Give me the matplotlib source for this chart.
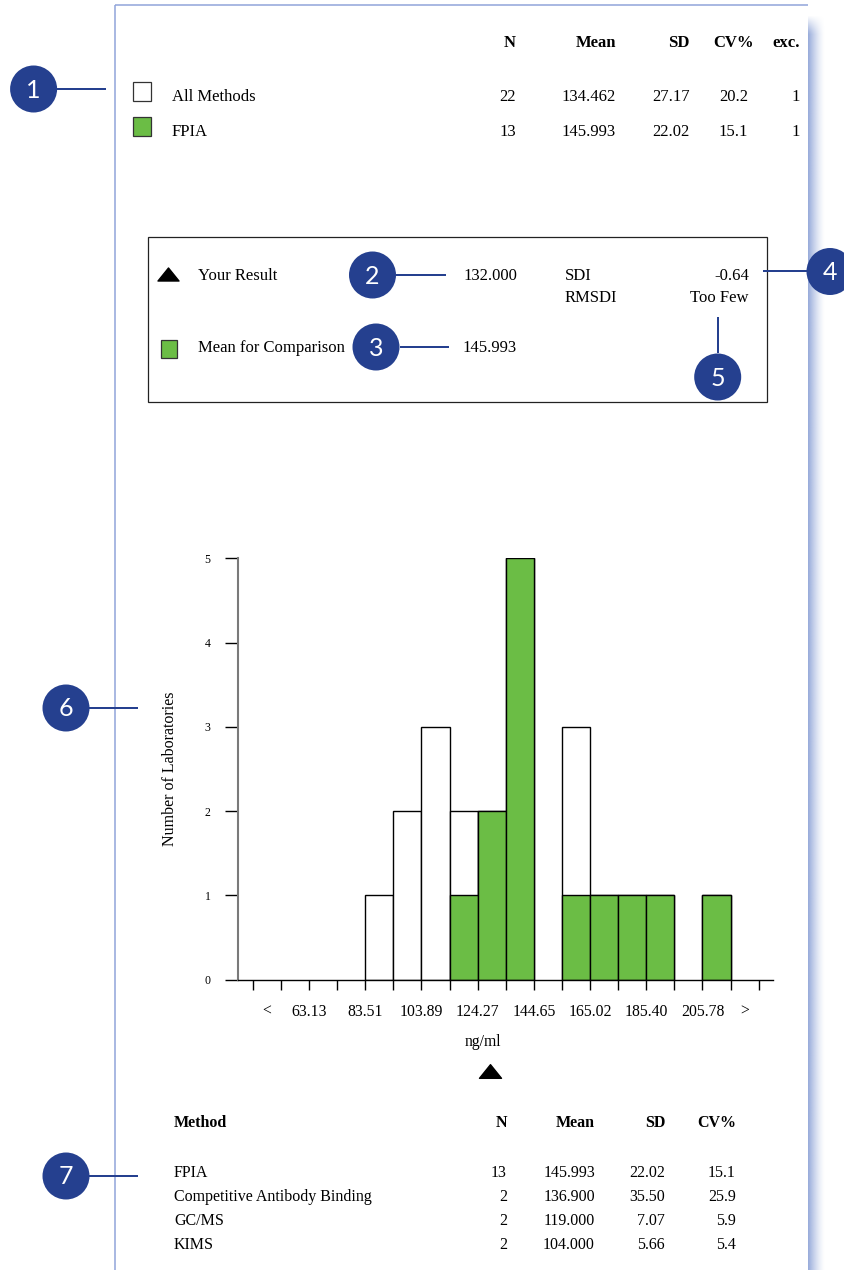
import numpy as np
import matplotlib
matplotlib.use("Agg")
import matplotlib.pyplot as plt
from matplotlib.patches import Circle, Rectangle
from matplotlib.path import Path
import matplotlib.transforms as mtransforms

# ---------------- data ----------------
summary_groups = ["All Methods", "FPIA"]
summary_n = ["22", "13"]
summary_mean = ["134.462", "145.993"]
summary_sd = ["27.17", "22.02"]
summary_cv = ["20.2", "15.1"]
summary_exc = ["1", "1"]

your_result = "132.000"
comparison_mean = "145.993"
sdi_value = "-0.64"
rmsdi_value = "Too Few"

first_edge = 42.75
bin_width = 10.1894
n_bins = 18
counts_all = [0, 0, 0, 0, 1, 2, 3, 2, 2, 5, 0, 3, 1, 1, 1, 0, 1, 0]
counts_fpia = [0, 0, 0, 0, 0, 0, 0, 1, 2, 5, 0, 1, 1, 1, 1, 0, 1, 0]
x_tick_labels = ["<", "63.13", "83.51", "103.89", "124.27", "144.65",
                 "165.02", "185.40", "205.78", ">"]
your_result_marker_x = 128.7

methods = ["FPIA", "Competitive Antibody Binding", "GC/MS", "KIMS"]
method_n = ["13", "2", "2", "2"]
method_mean = ["145.993", "136.900", "119.000", "104.000"]
method_sd = ["22.02", "35.50", "7.07", "5.66"]
method_cv = ["15.1", "25.9", "5.9", "5.4"]

# ---------------- style ----------------
W, H = 845, 1270
GREEN = "#6bbd45"
NAVY = "#25408f"
PAGE = "#8ea3d9"
SERIF = ["Liberation Serif", "DejaVu Serif"]
plt.rcParams["font.family"] = SERIF

fig = plt.figure(figsize=(W / 100, H / 100), dpi=100)
bg = fig.add_axes([0, 0, 1, 1])
bg.set_xlim(0, W)
bg.set_ylim(H, 0)
bg.axis("off")

PX = 0.72  # points per pixel


def T(x, y, s, ha="left", size=12, weight="normal"):
    bg.text(x, y + 1, s, ha=ha, va="center", fontsize=size, fontweight=weight,
            color="black")


# page border + shadow
bg.plot([114.7, 114.7], [5.3, H], color=PAGE, lw=1.5 * PX, solid_capstyle="butt")
bg.plot([114.7, 808.5], [5.3, 5.3], color=PAGE, lw=1.5 * PX, solid_capstyle="butt")
sh_w, sh_h = 60, 400
gx = np.linspace(0, 1, sh_w)
gy = np.linspace(0, 1, sh_h)
alpha_x = (1 - gx) ** 1.4
img = np.zeros((sh_h, sh_w, 4))
img[..., 0] = 150 / 255
img[..., 1] = 170 / 255
img[..., 2] = 218 / 255
top_fade = np.clip((gy * (H - 14)) / 18.0, 0, 1)
img[..., 3] = alpha_x[None, :] * top_fade[:, None]
bg.imshow(img, extent=[808.5, 825, H, 14], aspect="auto", interpolation="bilinear",
          zorder=0)
bg.set_xlim(0, W)
bg.set_ylim(H, 0)

# ---------------- top summary table ----------------
T(516, 42, "N", ha="right", weight="bold")
T(616, 42, "Mean", ha="right", weight="bold")
T(690, 42, "SD", ha="right", weight="bold")
T(754, 42, "CV%", ha="right", weight="bold")
T(800, 42, "exc.", ha="right", weight="bold")
row_y = [96, 131]
for i, g in enumerate(summary_groups):
    y = row_y[i]
    fc = "white" if i == 0 else GREEN
    bg.add_patch(Rectangle((133, y - 14), 18, 19, facecolor=fc, edgecolor="#333333",
                           lw=0.9))
    T(172, y, g)
    T(516, y, summary_n[i], ha="right")
    T(616, y, summary_mean[i], ha="right")
    T(690, y, summary_sd[i], ha="right")
    T(748, y, summary_cv[i], ha="right")
    T(800, y, summary_exc[i], ha="right")

# ---------------- legend box ----------------
bg.add_patch(Rectangle((148, 237), 619, 165, facecolor="none", edgecolor="#222222",
                       lw=0.9))
tri = Path([(-1, -0.62), (1, -0.62), (0, 0.62), (-1, -0.62)],
           [Path.MOVETO, Path.LINETO, Path.LINETO, Path.CLOSEPOLY])
bg.plot([168.5], [274], marker=tri, markersize=21 * PX, color="black", lw=0)
T(198, 275, "Your Result")
T(517, 275, your_result, ha="right")
T(565, 275, "SDI")
T(565, 297, "RMSDI")
T(749, 275, sdi_value, ha="right")
T(749, 297, rmsdi_value, ha="right")
bg.add_patch(Rectangle((161, 340), 16, 18, facecolor=GREEN, edgecolor="#333333",
                       lw=0.9))
T(198, 347, "Mean for Comparison")
T(517, 347, comparison_mean, ha="right")

# ---------------- bottom method table ----------------
T(174, 1122, "Method", size=11.5, weight="bold")
T(507, 1122, "N", ha="right", size=11.5, weight="bold")
T(595, 1122, "Mean", ha="right", size=11.5, weight="bold")
T(666, 1122, "SD", ha="right", size=11.5, weight="bold")
T(736, 1122, "CV%", ha="right", size=11.5, weight="bold")
mrow_y = [1172, 1196, 1220, 1244]
for i, m in enumerate(methods):
    y = mrow_y[i]
    T(174, y, m, size=11.5)
    T(507, y, method_n[i], ha="right", size=11.5)
    T(595, y, method_mean[i], ha="right", size=11.5)
    T(665, y, method_sd[i], ha="right", size=11.5)
    T(736, y, method_cv[i], ha="right", size=11.5)

# ---------------- histogram ----------------
ax_l, ax_r, ax_t, ax_b = 238, 773, 558.3, 979.5
ax = fig.add_axes([ax_l / W, (H - ax_b) / H, (ax_r - ax_l) / W, (ax_b - ax_t) / H])
ax.patch.set_alpha(0)
edges = first_edge + bin_width * np.arange(n_bins + 1)
left = edges[:-1]
ca = np.array(counts_all)
cf = np.array(counts_fpia)
ax.bar(left[ca > 0], ca[ca > 0], width=bin_width, align="edge", facecolor="white",
       edgecolor="black", lw=1.0, zorder=2)
ax.bar(left[cf > 0], cf[cf > 0], width=bin_width, align="edge", facecolor=GREEN,
       edgecolor="black", lw=1.0, zorder=3)

px_per_unit = (477.7 - 365.3) / (124.27 - 83.51)
x0 = 83.51 - (365.3 - ax_l) / px_per_unit
x1 = 83.51 + (ax_r - 365.3) / px_per_unit
ax.set_xlim(x0, x1)
ax.set_ylim(0, 5)
for s in ["top", "right"]:
    ax.spines[s].set_visible(False)
ax.spines["left"].set_color("#7a7a7a")
ax.spines["left"].set_linewidth(1.5)
ax.spines["bottom"].set_color("black")
ax.spines["bottom"].set_linewidth(1.0)
ax.spines["bottom"].set_zorder(4)
ax.set_yticks([0, 1, 2, 3, 4, 5])
ax.tick_params(axis="y", direction="out", length=13 * PX, width=1.0, color="black",
               labelsize=8.5, pad=10.5)
ax.set_xticks(edges)
ax.set_xticklabels([])
ax.tick_params(axis="x", direction="out", length=10 * PX, width=1.0, color="black")

label_pos = [left[0] + bin_width / 2] + list(edges[2:17:2]) + [left[-1] + bin_width / 2]
for xp, lbl in zip(label_pos, x_tick_labels):
    ax.annotate(lbl, xy=(xp, 0), xycoords="data", xytext=(0, -32.5 * PX),
                textcoords="offset points", ha="center", va="center", fontsize=11.3,
                annotation_clip=False)
ax.annotate("ng/ml", xy=(126.1, 0), xycoords="data", xytext=(0, -62.5 * PX),
            textcoords="offset points", ha="center", va="center", fontsize=11.3,
            annotation_clip=False)
tri_tr = mtransforms.offset_copy(ax.transData, fig=fig, x=0, y=-91.5 * PX,
                                 units="points")
ax.plot([your_result_marker_x], [0], marker=tri, markersize=22 * PX, color="black",
        lw=0, transform=tri_tr, clip_on=False)
ax.text(-0.1271, 0.5, "Number of Laboratories", transform=ax.transAxes, rotation=90,
        ha="center", va="center", fontsize=11.5)

# ---------------- numbered callouts ----------------
callouts = [
    ("1", (33.6, 89), [(57, 89), (106, 89)]),
    ("2", (372.5, 275), [(396, 275), (446, 275)]),
    ("3", (376, 347), [(400, 347), (449, 347)]),
    ("4", (830, 271.5), [(763, 271), (808, 271)]),
    ("5", (717.7, 377), [(718, 316.5), (718, 353)]),
    ("6", (66, 708), [(89, 708), (138, 708)]),
    ("7", (66, 1176), [(89, 1176), (138, 1176)]),
]
for num, (cx, cy), pts in callouts:
    (xa, ya), (xb, yb) = pts
    bg.plot([xa, xb], [ya, yb], color=NAVY, lw=2 * PX, solid_capstyle="butt",
            zorder=5)
    bg.add_patch(Circle((cx, cy), 23.5, facecolor=NAVY, edgecolor="none", zorder=6))
    bg.text(cx, cy + 1, num, ha="center", va="center", color="white", fontsize=18,
            family=["Lato", "DejaVu Sans"], fontweight="normal", zorder=7)

fig.savefig("out.png", dpi=100)
